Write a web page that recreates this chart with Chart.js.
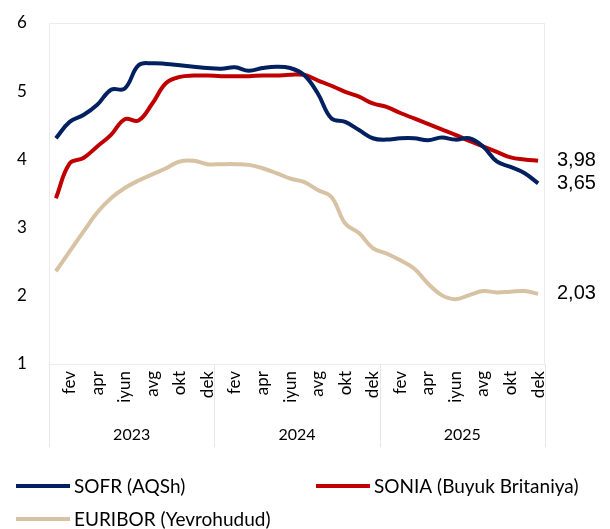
<!DOCTYPE html>
<html>
<head>
<meta charset="utf-8">
<script src="https://cdn.jsdelivr.net/npm/chart.js@4.4.1/dist/chart.umd.min.js"></script>
<style>
  html, body { margin: 0; padding: 0; background: #fff; }
  #wrap { width: 610px; height: 529px; }
</style>
</head>
<body>
<div id="wrap"><canvas id="myChart" width="610" height="529"></canvas></div>
<script>
// months (uzbek short names) and years
const months = ['yan','fev','mar','apr','may','iyun','iyul','avg','sen','okt','noy','dek'];
const years = ['2023','2024','2025'];
const labels = [];
years.forEach(y => months.forEach(m => labels.push(m + ' ' + y)));

// monthly rates, %
const sofr = [4.31,4.55,4.65,4.80,5.02,5.04,5.38,5.41,5.40,5.38,5.36,5.34,
              5.33,5.35,5.30,5.34,5.36,5.34,5.24,4.97,4.60,4.55,4.43,4.31,
              4.29,4.31,4.31,4.28,4.32,4.29,4.31,4.19,3.97,3.89,3.80,3.65];
const sonia = [3.43,3.94,4.02,4.19,4.36,4.59,4.57,4.82,5.12,5.21,5.23,5.23,
               5.22,5.22,5.22,5.23,5.23,5.24,5.24,5.16,5.08,4.99,4.92,4.82,
               4.77,4.68,4.60,4.52,4.44,4.36,4.27,4.19,4.11,4.03,4.00,3.98];
const euribor = [2.36,2.65,2.94,3.22,3.43,3.58,3.69,3.78,3.87,3.97,3.98,3.93,
                 3.93,3.93,3.92,3.87,3.80,3.72,3.67,3.55,3.45,3.06,2.92,2.70,
                 2.62,2.52,2.40,2.18,2.01,1.95,2.01,2.07,2.05,2.06,2.07,2.03];

const seriesNames = ['SOFR (AQSh)', 'SONIA (Buyuk Britaniya)', 'EURIBOR (Yevrohudud)'];
const colors = ['#002060', '#C00000', '#D7C2A3'];

const FONT = 'Lato, "Open Sans", sans-serif';

const decor = {
  id: 'decor',
  beforeDatasetsDraw(chart) {
    const ctx = chart.ctx, a = chart.chartArea;
    ctx.save();
    ctx.strokeStyle = '#ECECEC';
    ctx.lineWidth = 1;
    ctx.strokeRect(a.left + 0.5, a.top + 0.5, a.right - a.left - 1, a.bottom - a.top);
    ctx.restore();
  },
  afterDraw(chart) {
    const ctx = chart.ctx, a = chart.chartArea;
    const x = chart.scales.x, y = chart.scales.y;
    ctx.save();
    // year separators + year labels
    ctx.strokeStyle = '#E6E6E6';
    ctx.lineWidth = 1;
    const step = x.getPixelForValue(1) - x.getPixelForValue(0);
    for (let k = 0; k <= years.length; k++) {
      const px = Math.round(x.getPixelForValue(k * 12) - step / 2) + 0.5;
      ctx.beginPath();
      ctx.moveTo(px, a.bottom);
      ctx.lineTo(px, a.bottom + 83);
      ctx.stroke();
    }
    ctx.fillStyle = '#000';
    ctx.font = '16px ' + FONT;
    ctx.textAlign = 'center';
    ctx.textBaseline = 'middle';
    years.forEach((yr, k) => {
      const cx = (x.getPixelForValue(k * 12) + x.getPixelForValue(k * 12 + 11)) / 2;
      ctx.fillText(yr, cx, a.bottom + 71);
    });
    // end value labels
    ctx.font = '20px "Liberation Sans", Arial, sans-serif';
    ctx.textAlign = 'left';
    chart.data.datasets.forEach(ds => {
      const v = ds.data[ds.data.length - 1];
      ctx.fillText(v.toFixed(2).replace('.', ','), a.right + 12, y.getPixelForValue(v));
    });
    // legend
    const spots = [[16, 486], [316, 486], [16, 519]];
    ctx.font = '19px ' + FONT;
    chart.data.datasets.forEach((ds, i) => {
      const [lx, ly] = spots[i];
      ctx.strokeStyle = ds.borderColor;
      ctx.lineWidth = 4;
      ctx.beginPath();
      ctx.moveTo(lx, ly);
      ctx.lineTo(lx + 54, ly);
      ctx.stroke();
      ctx.fillStyle = '#000';
      ctx.fillText(ds.label, lx + 58, ly + 1);
    });
    ctx.restore();
  }
};

function makeSet(name, data, color) {
  return {
    label: name,
    data: data,
    borderColor: color,
    backgroundColor: color,
    borderWidth: 4,
    pointRadius: 0,
    tension: 0.4,
    fill: false
  };
}

window.addEventListener('load', setup);

function setup() {
  const ctx = document.getElementById('myChart').getContext('2d');
  new Chart(ctx, {
    type: 'line',
    data: {
      labels: labels,
      datasets: [
        makeSet(seriesNames[0], sofr, colors[0]),
        makeSet(seriesNames[1], sonia, colors[1]),
        makeSet(seriesNames[2], euribor, colors[2])
      ]
    },
    options: {
      responsive: false,
      animation: false,
      layout: { padding: { top: 23, right: 65, left: 17, bottom: 0 } },
      plugins: { legend: { display: false }, tooltip: { enabled: false } },
      scales: {
        x: {
          offset: true,
          grid: { display: false, drawTicks: false },
          border: { display: false },
          ticks: {
            autoSkip: false,
            minRotation: 90,
            maxRotation: 90,
            padding: 7,
            color: '#000',
            font: { family: FONT, size: 17 },
            callback: function (val, idx) {
              return idx % 2 === 1 ? months[idx % 12] : '';
            }
          },
          afterFit: function (scale) { scale.height = 165; }
        },
        y: {
          min: 1,
          max: 6,
          grid: { display: false, drawTicks: false },
          border: { display: false },
          ticks: {
            stepSize: 1,
            padding: 0,
            crossAlign: 'far',
            color: '#000',
            font: { family: FONT, size: 17 }
          },
          afterFit: function (scale) { scale.width = 32; }
        }
      }
    },
    plugins: [decor]
  });
}
</script>
</body>
</html>
